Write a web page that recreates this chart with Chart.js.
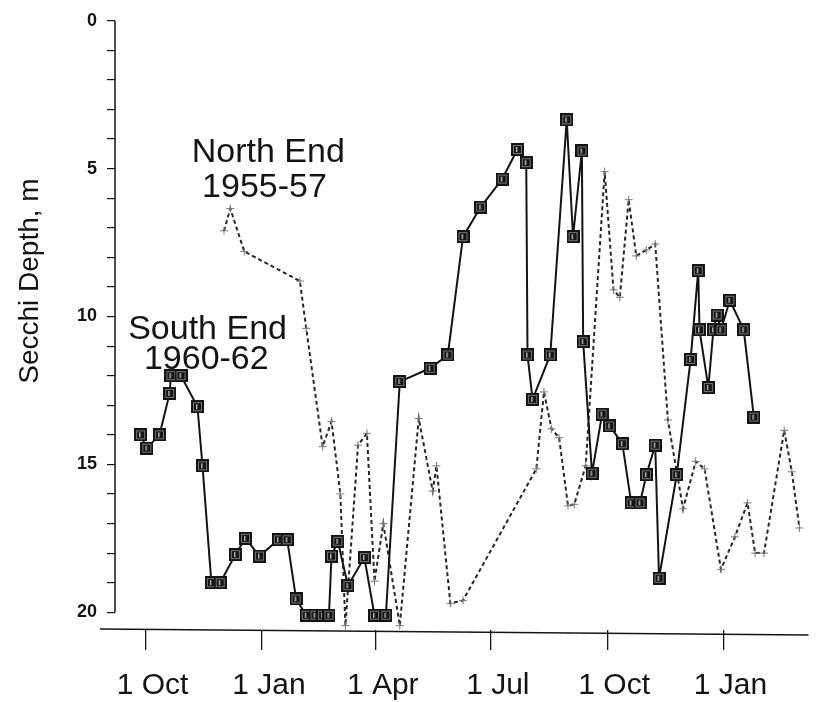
<!DOCTYPE html>
<html>
<head>
<meta charset="utf-8">
<script src="https://cdn.jsdelivr.net/npm/chart.js@4.4.1/dist/chart.umd.min.js"></script>
<style>
  html, body { margin: 0; padding: 0; background: #ffffff; }
  #wrap { width: 817px; height: 702px; position: relative; }
</style>
</head>
<body>
<div id="wrap"><canvas id="c" width="817" height="702"></canvas></div>
<script>
// Sampling dates are counted in days from 1 October of the first season.
const southDays  = [-4, 1, 11, 19, 20, 28, 41, 45, 52, 59, 71, 79, 90, 105, 112, 119, 127, 134, 140, 145,
                    147, 152, 160, 173, 181, 190, 201, 225, 239, 251, 265, 282, 294, 301, 302, 306, 320,
                    333, 338, 345, 346, 353, 361, 367, 377, 384, 391, 396, 403, 406, 420, 431, 437, 438,
                    445, 449, 452, 455, 462, 473, 481];
const southDepth = [14.0, 14.45, 14.0, 12.6, 12.0, 12.0, 13.05, 15.05, 19.0, 19.0, 18.05, 17.5, 18.1, 17.55, 17.55, 19.55, 20.1, 20.1, 20.1, 20.1,
                    18.1, 17.6, 19.1, 18.15, 20.1, 20.1, 12.2, 11.75, 11.3, 7.3, 6.3, 5.35, 4.35, 4.8, 11.3, 12.8, 11.3,
                    3.35, 7.3, 4.4, 10.85, 15.3, 13.3, 13.7, 14.3, 16.3, 16.3, 15.35, 14.35, 18.85, 15.35, 11.45, 8.45, 10.45,
                    12.4, 10.45, 9.95, 10.45, 9.45, 10.45, 13.4];

const northDays  = [62, 67, 78, 122, 127, 140, 147, 154, 158, 168, 175, 181, 188, 201, 216, 227, 230, 241, 251,
                    309, 315, 321, 327, 334, 339, 348, 363, 370, 375, 382, 388, 396, 403, 413, 425, 435, 442,
                    455, 466, 476, 482, 489, 505, 511, 517];
const northDepth = [7.1, 6.35, 7.8, 8.8, 10.4, 14.4, 13.55, 16.0, 20.45, 14.35, 13.95, 18.95, 17.0, 20.45, 13.45, 15.9, 15.05, 19.7, 19.6,
                    15.15, 12.55, 13.8, 14.1, 16.4, 16.35, 15.05, 5.1, 9.1, 9.35, 6.05, 7.95, 7.75, 7.55, 13.5, 16.5, 14.9, 15.15,
                    18.55, 17.45, 16.3, 18.0, 18.0, 13.85, 15.25, 17.15];

const monthTickDays   = [0, 92, 182, 273, 365, 457];
const monthTickLabels = ['1 Oct', '1 Jan', '1 Apr', '1 Jul', '1 Oct', '1 Jan'];
const depthTicks      = [0, 1, 2, 3, 4, 5, 6, 7, 8, 9, 10, 11, 12, 13, 14, 15, 16, 17, 18, 19, 20];
const depthLabelEvery = 5;

// Text labels placed in data coordinates: [text, day, depth]
const seriesNotes = [
  ['North End', 97, 4.45],
  ['1955-57',   94, 5.65],
  ['South End', 49, 10.45],
  ['1960-62',   48, 11.45]
];

const FONT = "'Liberation Sans', Arial, Helvetica, sans-serif";
const INK = '#141414';

// Filled square marker with a faint inner frame
function squareMarker(size) {
  const cv = document.createElement('canvas');
  cv.width = size; cv.height = size;
  const g = cv.getContext('2d');
  g.fillStyle = INK;
  g.fillRect(0, 0, size, size);
  g.strokeStyle = 'rgba(150,150,150,0.75)';
  g.lineWidth = 1;
  g.strokeRect(2.5, 2.5, size - 5, size - 5);
  g.fillStyle = '#b0b0b0';
  g.fillRect(Math.floor(size / 2) - 1, 4, 1.5, size - 8);
  return cv;
}

const decor = {
  id: 'decor',
  afterDraw(chart) {
    const { ctx, chartArea, scales } = chart;
    const x = scales.x, y = scales.y;
    ctx.save();
    ctx.strokeStyle = INK;
    ctx.lineWidth = 1.5;
    // vertical axis from 0 to 20 m
    ctx.beginPath();
    ctx.moveTo(chartArea.left, y.getPixelForValue(0));
    ctx.lineTo(chartArea.left, y.getPixelForValue(20));
    ctx.stroke();
    // horizontal time axis
    ctx.beginPath();
    ctx.moveTo(chartArea.left - 15, chartArea.bottom - 1);
    ctx.lineTo(chartArea.right, chartArea.bottom + 5);
    ctx.stroke();

    // axis title
    ctx.fillStyle = INK;
    ctx.font = '28px ' + FONT;
    ctx.textAlign = 'center';
    ctx.textBaseline = 'middle';
    ctx.translate(30, y.getPixelForValue(8.8));
    ctx.rotate(-Math.PI / 2);
    ctx.fillText('Secchi Depth, m', 0, 0);
    ctx.restore();

    // series notes
    ctx.save();
    ctx.fillStyle = INK;
    ctx.font = '34px ' + FONT;
    ctx.textAlign = 'center';
    ctx.textBaseline = 'middle';
    seriesNotes.forEach(([t, d, v]) => {
      ctx.fillText(t, x.getPixelForValue(d), y.getPixelForValue(v));
    });
    ctx.restore();
  }
};

new Chart(document.getElementById('c'), {
  type: 'line',
  data: {
    datasets: [
      {
        label: 'South End 1960-62',
        data: southDays.map((d, i) => ({ x: d, y: southDepth[i] })),
        borderColor: INK,
        borderWidth: 2,
        pointStyle: squareMarker(13),
        pointRadius: 6.5,
        tension: 0,
        fill: false,
        clip: false,
        order: 1
      },
      {
        label: 'North End 1955-57',
        data: northDays.map((d, i) => ({ x: d, y: northDepth[i] })),
        borderColor: '#262626',
        borderWidth: 2,
        borderDash: [4, 3],
        pointStyle: 'cross',
        pointRadius: 4,
        pointBorderWidth: 1,
        pointBorderColor: '#777',
        tension: 0,
        fill: false,
        clip: false,
        order: 2
      }
    ]
  },
  options: {
    responsive: false,
    animation: false,
    devicePixelRatio: 1,
    layout: { padding: { top: 16, right: 0, bottom: 0, left: 0 } },
    plugins: { legend: { display: false }, tooltip: { enabled: false } },
    scales: {
      x: {
        type: 'linear',
        min: -24.2,
        max: 524.2,
        afterBuildTicks: (s) => { s.ticks = monthTickDays.map(v => ({ value: v })); },
        afterFit: (s) => { s.height = 72; },
        border: { display: false },
        grid: { drawOnChartArea: false, drawTicks: true, tickLength: 20, color: INK, lineWidth: 1.3 },
        ticks: {
          autoSkip: false,
          maxRotation: 0,
          padding: 18,
          labelOffset: 7,
          color: INK,
          font: { family: FONT, size: 30 },
          callback: (v, i) => monthTickLabels[i]
        }
      },
      y: {
        type: 'linear',
        reverse: true,
        min: 0,
        max: 20.6,
        afterBuildTicks: (s) => { s.ticks = depthTicks.map(v => ({ value: v })); },
        afterFit: (s) => { s.width = 115; },
        border: { display: false },
        grid: { drawOnChartArea: false, drawTicks: true, tickLength: 8, color: INK, lineWidth: 1.2 },
        ticks: {
          autoSkip: false,
          padding: 10,
          color: INK,
          font: { family: FONT, size: 18, weight: 'bold' },
          callback: (v) => (v % depthLabelEvery === 0 ? String(v) : '')
        }
      }
    }
  },
  plugins: [decor]
});
</script>
</body>
</html>
